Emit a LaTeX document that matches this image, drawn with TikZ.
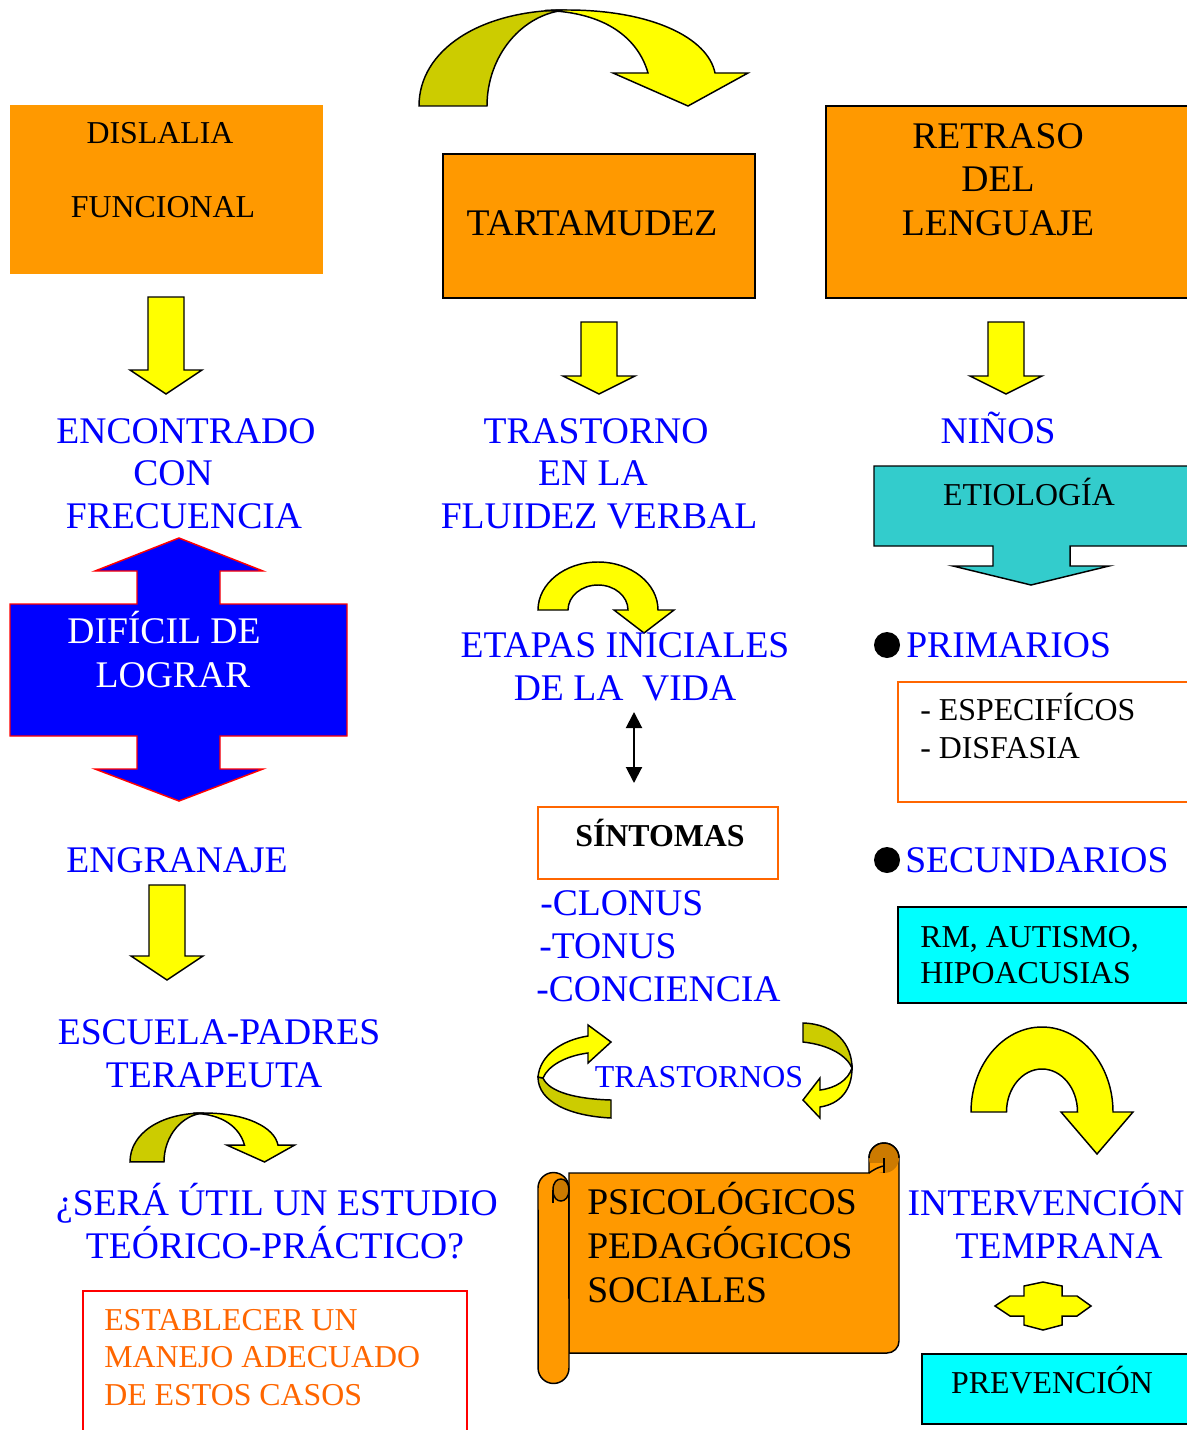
\documentclass[tikz,border=0pt]{standalone}
\usepackage{fontspec}
\setmainfont{Liberation Serif}
\usetikzlibrary{arrows.meta}
\definecolor{orbox}{HTML}{FF9900}
\definecolor{orcurl}{HTML}{CC7A00}
\definecolor{yel}{HTML}{FFFF00}
\definecolor{dyel}{HTML}{CCCC00}
\definecolor{myblue}{HTML}{0000FF}
\definecolor{teal2}{HTML}{33CCCC}
\definecolor{cyan2}{HTML}{00FFFF}
\definecolor{orline}{HTML}{FF6600}
\definecolor{redline}{HTML}{FF0000}
\newcommand\bigcurvearrow{%
  \draw[yarrow, fill=dyel] (419,106) .. controls (419,50) and (480,10) .. (567,10)
     .. controls (523,13) and (487,55) .. (487,106) -- cycle;
  \draw[yarrow] (545,10.5) .. controls (555,10) and (560,10) .. (567,10)
     .. controls (652,10) and (708,38) .. (715,73)
     -- (748,73) -- (688,106) -- (613,73) -- (648,73)
     .. controls (638,38) and (605,12) .. (545,10.5) -- cycle;
}
\newcommand\dnarr[4]{%
  \draw[yarrow] ({#1-18},#2) -- ({#1+18},#2) -- ({#1+18},#3) -- ({#1+36},#3)
     -- (#1,#4) -- ({#1-36},#3) -- ({#1-18},#3) -- cycle;
}
\begin{document}
\begin{tikzpicture}[x=0.75pt,y=-0.75pt,
  big/.style={font=\fontsize{28.2}{32}\selectfont, inner sep=0pt, anchor=base},
  sm/.style={font=\fontsize{23.9}{28}\selectfont, inner sep=0pt, anchor=base},
  bl/.style={text=myblue},
  lft/.style={anchor=base west},
  box/.style={draw=black, line width=1.1pt},
  yarrow/.style={draw=black, fill=yel, line width=1.1pt, line join=miter},
  scrollst/.style={draw=black, fill=orbox, line width=1.1pt},
]
\useasboundingbox (0,0) rectangle (1186,1430);

% ---------- top row boxes ----------
\fill[orbox] (10,105) rectangle (323,274);
\node[sm] (dis1) at (160,144) {DISLALIA};
\node[sm] (dis2) at (163,218) {FUNCIONAL};

\draw[box, fill=orbox] (443,154) rectangle (755,298);
\node[big] (tart) at (592,236) {TARTAMUDEZ};

\draw[box, fill=orbox] (826,106) rectangle (1192,298);
\node[big] (ret1) at (998,149) {RETRASO};
\node[big] (ret2) at (998,192) {DEL};
\node[big] (ret3) at (998,236) {LENGUAJE};

% top curved arrow
\bigcurvearrow

% ---------- down arrows ----------
\dnarr{166}{297}{370}{394}
\dnarr{599}{322}{376}{394}
\dnarr{1006}{322}{376}{394}
\dnarr{167}{885}{956}{980}

% ---------- left column ----------
\node[big,bl] (enc1) at (186,443) {ENCONTRADO};
\node[big,bl] (enc2) at (173,485) {CON};
\node[big,bl] (enc3) at (184,528) {FRECUENCIA};

\draw[draw=redline, fill=myblue, line width=1.1pt]
  (10,604) -- (137,604) -- (137,571) -- (95,571) -- (179,538) -- (263,571)
  -- (220,571) -- (220,604) -- (347,604) -- (347,736) -- (220,736) -- (220,769)
  -- (263,769) -- (179,801) -- (95,769) -- (137,769) -- (137,736) -- (10,736) -- cycle;
\node[big, text=white] (dif1) at (164,643) {DIFÍCIL DE};
\node[big, text=white] (dif2) at (173,687) {LOGRAR};

\node[big,bl] (engr) at (177,872) {ENGRANAJE};
\node[big,bl] (esc1) at (219,1044) {ESCUELA-PADRES};
\node[big,bl] (esc2) at (214,1087) {TERAPEUTA};

\begin{scope}[shift={(-79.5,1107.9)}, xscale=0.5, yscale=0.51]
  \bigcurvearrow
\end{scope}

\node[big,bl] (ser1) at (277,1215) {¿SERÁ ÚTIL UN ESTUDIO};
\node[big,bl] (ser2) at (275,1258) {TEÓRICO-PRÁCTICO?};

\draw[draw=redline, line width=1.1pt] (83,1440) -- (83,1291) -- (467,1291) -- (467,1440);
\node[sm, lft, text=orline] (est1) at (104,1330) {ESTABLECER UN};
\node[sm, lft, text=orline] (est2) at (104,1367) {MANEJO ADECUADO};
\node[sm, lft, text=orline] (est3) at (104,1405) {DE ESTOS CASOS};

% ---------- middle column ----------
\node[big,bl] (tr1) at (596,443) {TRASTORNO};
\node[big,bl] (tr2) at (593,485) {EN LA};
\node[big,bl] (tr3) at (599,528) {FLUIDEZ VERBAL};

\draw[yarrow] (538,610) arc[start angle=180, end angle=0, x radius=45pt, y radius=36pt]
  -- (674,610) -- (644,633) -- (614,610) -- (628,610)
  arc[start angle=0, end angle=180, x radius=22.5pt, y radius=18.75pt] -- cycle;

\node[big,bl] (eta1) at (625,657) {ETAPAS INICIALES};
\node[big,bl] (eta2) at (625,700) {DE LA~ VIDA};

\coordinate (va) at (634,712);
\coordinate (vb) at (634,783);
\draw[line width=1.5pt, {Triangle[width=12pt,length=12pt]}-{Triangle[width=12pt,length=12pt]}] (va) -- (vb);

\draw[draw=orline, line width=1.1pt] (538,807) rectangle (778,879);
\node[sm, font=\fontsize{23.9}{28}\selectfont\bfseries] (sint) at (660,846) {SÍNTOMAS};

\node[big,bl,lft] (cl1) at (540,915) {-CLONUS};
\node[big,bl,lft] (cl2) at (539,958) {-TONUS};
\node[big,bl,lft] (cl3) at (536,1001) {-CONCIENCIA};

% circular arrows around TRASTORNOS
\draw[yarrow, fill=dyel] (538,1077) .. controls (538,1102) and (570,1116) .. (611,1118)
  -- (611,1100) .. controls (576,1099) and (549,1092) .. (543,1078) -- cycle;
\draw[yarrow] (538,1077) .. controls (540,1055) and (562,1040) .. (588,1036)
  -- (588,1025) -- (611,1042) -- (588,1063) -- (588,1053)
  .. controls (565,1056) and (548,1066) .. (543,1078) -- cycle;
\draw[yarrow, fill=dyel] (803,1023) .. controls (836,1024) and (852,1045) .. (852,1068)
  .. controls (847,1056) and (830,1045) .. (803,1042) -- cycle;
\draw[yarrow] (852,1068) .. controls (852,1090) and (840,1104) .. (820,1107)
  -- (820,1118) -- (803,1100) -- (820,1078) -- (820,1090)
  .. controls (836,1088) and (848,1080) .. (852,1068) -- cycle;
\node[sm,bl] (trs) at (699,1087) {TRASTORNOS};

% scroll
\draw[scrollst] (569,1173) -- (869,1173) -- (869,1158)
  arc[start angle=180, end angle=0, radius=11.25pt]
  -- (899,1341) arc[start angle=0, end angle=-90, radius=9pt] -- (569,1353) -- cycle;
\fill[orcurl] (884,1158) circle[radius=11.25pt];
\draw[line width=1.1pt] (869,1158) arc[start angle=180, end angle=0, radius=11.25pt];
\fill[orbox] (869.6,1163) rectangle (884,1172.4);
\draw[line width=1.1pt] (884,1158) -- (884,1173);
\draw[line width=1.1pt] (869,1173) .. controls (876,1168) and (882,1166) .. (884,1166);
\draw[scrollst] (538,1188) arc[start angle=180, end angle=0, radius=11.6pt]
  -- (569,1368) arc[start angle=0, end angle=-180, radius=11.6pt] -- cycle;
\draw[line width=1.1pt, fill=orcurl] (553,1190) .. controls (553,1182) and (557,1179) .. (561,1179)
  .. controls (565,1179) and (569,1183) .. (569,1190)
  .. controls (569,1197) and (565,1201) .. (561,1201)
  .. controls (557,1201) and (553,1198) .. (553,1190) -- cycle;
\draw[line width=1.1pt] (553,1190) -- (553,1203);
\node[big, lft] (ps1) at (587,1214) {PSICOLÓGICOS};
\node[big, lft] (ps2) at (587,1258) {PEDAGÓGICOS};
\node[big, lft] (ps3) at (587,1302) {SOCIALES};

% ---------- right column ----------
\node[big,bl] (ninos) at (998,443) {NIÑOS};

\draw[box, fill=teal2] (874,466) -- (1192,466) -- (1192,546) -- (1070,546) -- (1070,566)
  -- (1109,566) -- (1031,585) -- (953,566) -- (993,566) -- (993,546) -- (874,546) -- cycle;
\node[sm] (etio) at (1029,505) {ETIOLOGÍA};

\node[circle, fill=black, minimum size=19.5pt, inner sep=0pt] (bul1) at (887,645) {};
\node[big,bl,lft] (prim) at (906,657) {PRIMARIOS};

\draw[draw=orline, line width=1.1pt] (1192,682) -- (898,682) -- (898,802) -- (1192,802);
\node[sm,lft] (esp1) at (920,720) {- ESPECIFÍCOS};
\node[sm,lft] (esp2) at (920,758) {- DISFASIA};

\node[circle, fill=black, minimum size=19.5pt, inner sep=0pt] (bul2) at (887,860) {};
\node[big,bl,lft] (secu) at (905,872) {SECUNDARIOS};

\draw[box, fill=cyan2] (1192,907) -- (898,907) -- (898,1003) -- (1192,1003);
\node[sm,lft] (rm1) at (920,947) {RM, AUTISMO,};
\node[sm,lft] (rm2) at (920,983) {HIPOACUSIAS};

\draw[yarrow] (971,1112) arc[start angle=180, end angle=0, x radius=53.25pt, y radius=63.75pt]
  -- (1133,1112) -- (1097,1154) -- (1061,1112) -- (1077.5,1112)
  arc[start angle=0, end angle=180, x radius=26.625pt, y radius=32.25pt] -- cycle;

\node[big,bl] (int1) at (1046,1215) {INTERVENCIÓN};
\node[big,bl] (int2) at (1059,1258) {TEMPRANA};

\draw[yarrow] (995,1306) -- (1010,1296) -- (1024,1296) -- (1024,1286) -- (1043,1282)
  -- (1062,1286) -- (1062,1296) -- (1077,1296) -- (1091,1306) -- (1077,1316)
  -- (1062,1316) -- (1062,1325) -- (1043,1330) -- (1024,1325) -- (1024,1316)
  -- (1010,1316) -- cycle;

\draw[box, fill=cyan2] (1192,1354) -- (922,1354) -- (922,1424) -- (1192,1424);
\node[sm] (prev) at (1052,1393) {PREVENCIÓN};
\end{tikzpicture}
\end{document}
